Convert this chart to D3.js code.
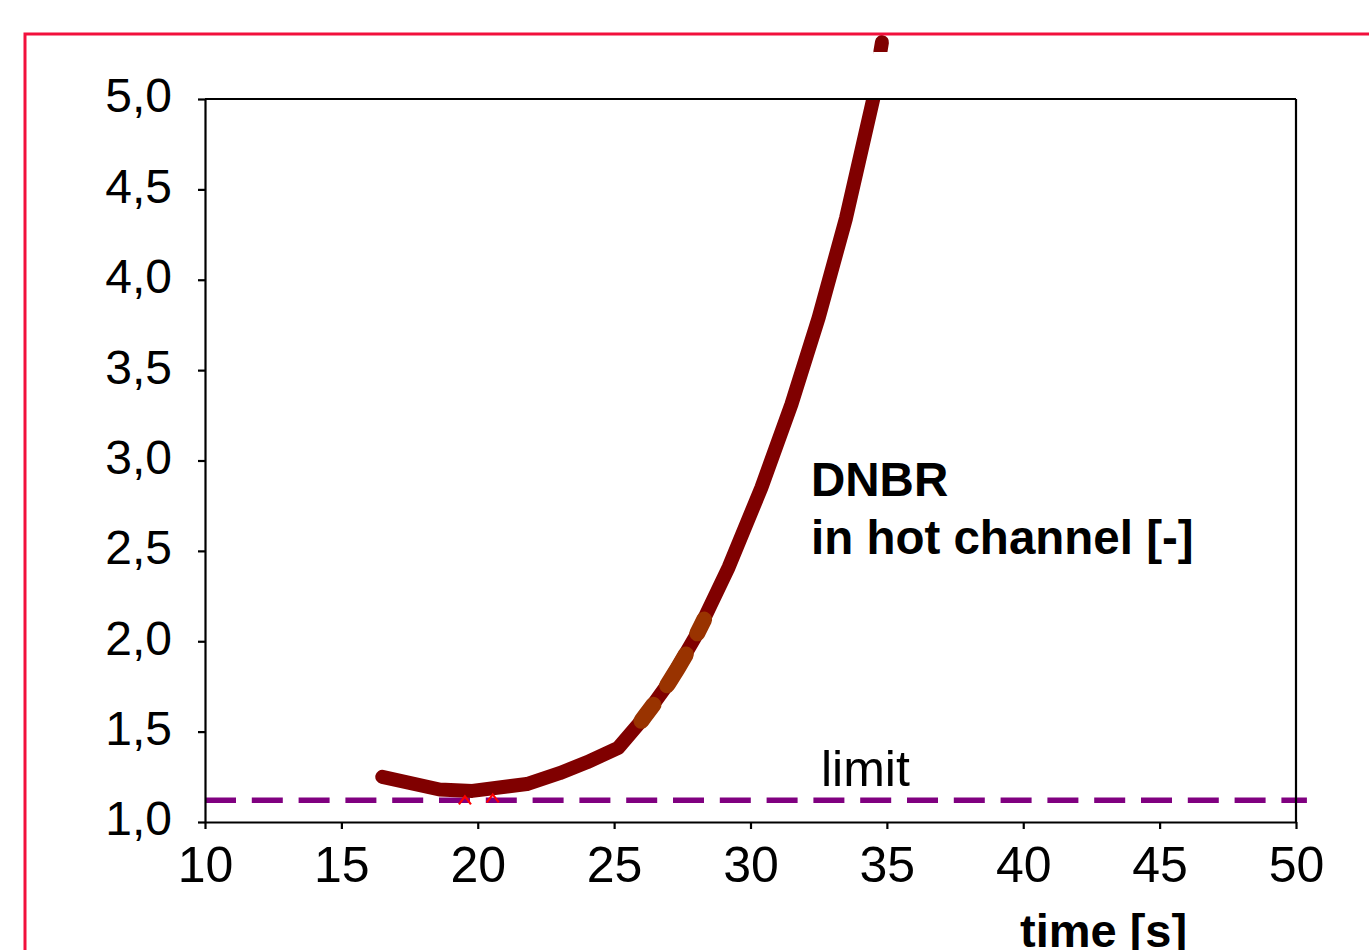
<!DOCTYPE html>
<html>
<head>
<meta charset="utf-8">
<script src="https://cdn.jsdelivr.net/npm/d3@7"></script>
<style>
  html, body { margin: 0; padding: 0; background: #fff; overflow: hidden; }
  svg { display: block; font-family: "Liberation Sans", Arial, sans-serif; }
</style>
</head>
<body>
<script>
// ---- data ----
const dnbrTime  = [16.5, 18.6, 19.8, 21.8, 23.0, 24.0, 25.15, 26.0, 27.0, 28.0, 29.2, 30.4, 31.5, 32.5, 33.5, 34.5];
const dnbrValue = [1.25, 1.18, 1.172, 1.21, 1.27, 1.33, 1.41, 1.56, 1.77, 2.03, 2.41, 2.85, 3.31, 3.79, 4.34, 5.0];
const dnbrEndTime  = [34.76, 34.82];   // end of the curve, visible above the plot frame
const dnbrEndValue = [5.26, 5.315];
const overlayTime  = [26.0, 27.0, 28.0, 28.3];
const overlayValue = [1.56, 1.77, 2.03, 2.12];
const markerTime  = [19.53, 20.55];
const markerValue = [1.122, 1.133];
const limitTime  = [10, 50.4];
const limitValue = [1.12, 1.12];
const xTicks = [10, 15, 20, 25, 30, 35, 40, 45, 50];
const yTicks = [1.0, 1.5, 2.0, 2.5, 3.0, 3.5, 4.0, 4.5, 5.0];
const annotationLines = ["DNBR", "in hot channel [-]"];
const limitLabel = "limit";
const xTitle = "time [s]";

// ---- layout ----
const W = 1369, H = 950;
const svg = d3.select("body").append("svg").attr("width", W).attr("height", H);

const x = d3.scaleLinear().domain([10, 50]).range([205, 1296]);
const y = d3.scaleLinear().domain([1, 5]).range([822, 99]);
const fmt = v => d3.format(".1f")(v).replace(".", ",");
const line = d3.line().x(d => x(d[0])).y(d => y(d[1]));

// limit line
const limitData = limitTime.map((t, i) => [t, limitValue[i]]);
svg.append("path").datum(limitData)
  .attr("d", line)
  .attr("fill", "none").attr("stroke", "#800080").attr("stroke-width", 5.5)
  .attr("stroke-dasharray", "31,15.8");

// main DNBR curve, ending at the top of the plot (butt end)
const dnbr = dnbrTime.map((t, i) => [t, dnbrValue[i]]);
svg.append("path").datum(dnbr)
  .attr("d", line).attr("fill", "none").attr("stroke", "#800000").attr("stroke-width", 14)
  .attr("stroke-linecap", "round").attr("stroke-linejoin", "round");
// flatten the round cap at the frame top
svg.append("rect").attr("x", x(34.2)).attr("y", y(5.06)).attr("width", 30).attr("height", y(5) - y(5.06) - 1)
  .attr("fill", "#fff");

// visible end cap of the curve above the plot
const dnbrEnd = dnbrEndTime.map((t, i) => [t, dnbrEndValue[i]]);
svg.append("path").datum(dnbrEnd)
  .attr("d", line).attr("fill", "none").attr("stroke", "#800000").attr("stroke-width", 14)
  .attr("stroke-linecap", "round");
svg.append("rect").attr("x", x(34.5)).attr("y", y(5.26)).attr("width", 40).attr("height", 8).attr("fill", "#fff");
svg.append("rect").attr("x", 889).attr("y", 20).attr("width", 20).attr("height", 40).attr("fill", "#fff");

// overlay dashed segment
const overlay = overlayTime.map((t, i) => [t, overlayValue[i]]);
svg.append("path").datum(overlay)
  .attr("d", d3.line().x(d => x(d[0])).y(d => y(d[1])).curve(d3.curveMonotoneX))
  .attr("fill", "none").attr("stroke", "#993300").attr("stroke-width", 16)
  .attr("stroke-linecap", "round").attr("stroke-dasharray", "20,24,36,24,20,100");

// red caret markers
const markers = markerTime.map((t, i) => [t, markerValue[i]]);
svg.append("g").selectAll("path").data(markers).join("path")
  .attr("transform", d => `translate(${x(d[0])},${y(d[1])})`)
  .attr("d", "M-6,4.5L0,-3.5L6,4.5")
  .attr("fill", "none").attr("stroke", "#ff0000").attr("stroke-width", 2.2);

// outer red frame
svg.append("rect").attr("x", 25).attr("y", 34).attr("width", 1400).attr("height", 1000)
  .attr("fill", "none").attr("stroke", "#f2103c").attr("stroke-width", 3);

// axes
const axisG = svg.append("g");
const yAxis = d3.axisLeft(y).tickValues(yTicks).tickSize(7).tickSizeOuter(0).tickFormat(fmt);
const gy = axisG.append("g").attr("transform", `translate(${x(10)},0)`).call(yAxis);
const xAxis = d3.axisBottom(x).tickValues(xTicks).tickSize(7).tickSizeOuter(0).tickFormat(d3.format("d"));
const gx = axisG.append("g").attr("transform", `translate(0,${y(1)})`).call(xAxis);

[gx, gy].forEach(g => {
  g.selectAll(".domain").attr("stroke", "#000").attr("stroke-width", 2.2);
  g.selectAll(".tick line").attr("stroke", "#000").attr("stroke-width", 2.2);
  g.selectAll("text").attr("fill", "#000").attr("font-family", '"Liberation Sans", Arial, sans-serif');
});
gy.selectAll(".tick text").attr("font-size", 48).attr("x", -33).attr("dy", "0.27em");
gx.selectAll(".tick text").attr("font-size", 50).attr("y", 24).attr("dy", "0.71em");

// top and right border of the plot
axisG.append("line").attr("x1", x(10)).attr("x2", x(50)).attr("y1", y(5)).attr("y2", y(5))
  .attr("stroke", "#000").attr("stroke-width", 2.2);
axisG.append("line").attr("x1", x(50)).attr("x2", x(50)).attr("y1", y(5)).attr("y2", y(1))
  .attr("stroke", "#000").attr("stroke-width", 2.2);

// annotations
const ann = svg.append("text").attr("x", 811).attr("y", 496)
  .attr("font-size", 47.5).attr("font-weight", "bold").attr("fill", "#000");
annotationLines.forEach((s, i) => {
  ann.append("tspan").attr("x", 811).attr("y", 496 + i * 58).text(s);
});
svg.append("text").attr("x", 821).attr("y", 786).attr("font-size", 50).attr("fill", "#000").text(limitLabel);
svg.append("text").attr("x", 1020).attr("y", 947).attr("font-size", 47).attr("font-weight", "bold")
  .attr("fill", "#000").text(xTitle);
</script>
</body>
</html>
